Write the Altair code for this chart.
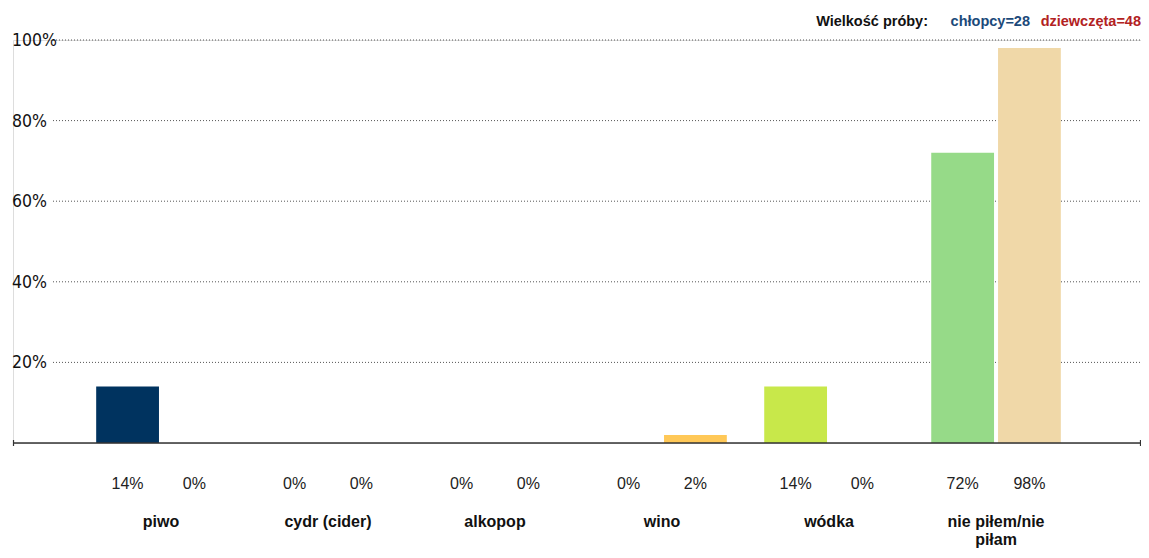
import altair as alt
import pandas as pd

categories = ["piwo", "cydr (cider)", "alkopop", "wino", "wódka", "nie piłem/nie piłam"]
category_labels = ["piwo", "cydr (cider)", "alkopop", "wino", "wódka", "nie piłem/nie\npiłam"]
groups = ["chłopcy", "dziewczęta"]
boys = [14, 0, 0, 0, 14, 72]
girls = [0, 0, 0, 2, 0, 98]
boys_colors = ["#00335F", "#1F5A8A", "#5B8DB8", "#F2A541", "#C8E84A", "#96DA88"]
girls_colors = ["#B22222", "#D9534F", "#E8A0A0", "#FFC857", "#E4F2A0", "#F0D8A8"]
y_ticks = [20, 40, 60, 80, 100]
y_tick_labels = ["20%", "40%", "60%", "80%", "100%"]

title_parts = ["Wielkość próby:", "chłopcy=28", "dziewczęta=48"]
title_colors = ["#111111", "#1B4A7A", "#B22222"]
title_right = [915, 1017, 1128]

rows = []
for i, c in enumerate(categories):
    rows.append({"cat": c, "group": groups[0], "value": boys[i], "color": boys_colors[i], "label": f"{boys[i]}%"})
    rows.append({"cat": c, "group": groups[1], "value": girls[i], "color": girls_colors[i], "label": f"{girls[i]}%"})
df = pd.DataFrame(rows)
cat_df = pd.DataFrame({"cat": categories, "lab": category_labels})
ytick_df = pd.DataFrame({"v": y_ticks, "lab": y_tick_labels})

W, H = 1128, 403
FONT = "Liberation Sans, Arial, sans-serif"
NARROW = "DejaVu Sans Condensed"

xscale = alt.Scale(domain=categories, paddingInner=0, paddingOuter=0.377, align=0.512)
xoff = alt.XOffset("group:N", sort=groups, scale=alt.Scale(domain=groups, paddingInner=0.06, paddingOuter=0.28))
yscale = alt.Scale(domain=[0, 100], nice=False)

grid = alt.Chart(ytick_df).mark_rule(
    color="#555555", strokeWidth=1, strokeDash=[1, 2]
).encode(
    y=alt.Y("v:Q", scale=yscale, axis=None),
    x=alt.value(40), x2=alt.value(W),
)

ylabels = alt.Chart(ytick_df).mark_text(
    font=NARROW, fontSize=17.5, color="#111111", align="left", baseline="middle", dy=1
).encode(
    y=alt.Y("v:Q", scale=yscale, axis=None),
    x=alt.value(-1),
    text="lab:N",
)

bars = alt.Chart(df).mark_bar().encode(
    x=alt.X("cat:N", sort=categories, scale=xscale, axis=None),
    xOffset=xoff,
    y=alt.Y("value:Q", scale=yscale, axis=None),
    color=alt.Color("color:N", scale=None),
)

baseline = alt.Chart(pd.DataFrame({"v": [0]})).mark_rule(color="#333333", strokeWidth=1.5).encode(
    y=alt.Y("v:Q", scale=yscale, axis=None), x=alt.value(0), x2=alt.value(W)
)
tick_l = alt.Chart(pd.DataFrame({"p": [0]})).mark_rule(color="#333333", strokeWidth=1.2).encode(
    x=alt.value(0.5), y=alt.value(H - 3), y2=alt.value(H + 3)
)
tick_r = alt.Chart(pd.DataFrame({"p": [W]})).mark_rule(color="#333333", strokeWidth=1.2).encode(
    x=alt.value(W - 0.5), y=alt.value(H - 3), y2=alt.value(H + 3)
)

vlabels = alt.Chart(df).mark_text(font=FONT, fontSize=16, color="#222222", baseline="middle").encode(
    x=alt.X("cat:N", sort=categories, scale=xscale, axis=None),
    xOffset=xoff,
    y=alt.value(444),
    text="label:N",
)

clabels = alt.Chart(cat_df).mark_text(font=FONT, fontSize=16, fontWeight="bold", color="#111111",
                                      baseline="alphabetic", lineBreak="\n", lineHeight=18).encode(
    x=alt.X("cat:N", sort=categories, scale=xscale, axis=None),
    y=alt.value(487),
    text="lab:N",
)

title_layers = []
for t, col, xr in zip(title_parts, title_colors, title_right):
    title_layers.append(
        alt.Chart(pd.DataFrame({"t": [t]})).mark_text(
            font=FONT, fontSize=14.5, fontWeight="bold", color=col, align="right", baseline="middle"
        ).encode(x=alt.value(xr), y=alt.value(-18), text="t:N")
    )

chart = alt.layer(grid, ylabels, bars, baseline, tick_l, tick_r, vlabels, clabels, *title_layers).properties(
    width=W, height=H,
    autosize=alt.AutoSizeParams(type="none"),
    padding={"left": 5, "top": 32, "right": 0, "bottom": 105},
).configure_view(stroke=None).configure(background="white")

chart.save("out.html", embed_options={"renderer": "svg", "actions": False})
